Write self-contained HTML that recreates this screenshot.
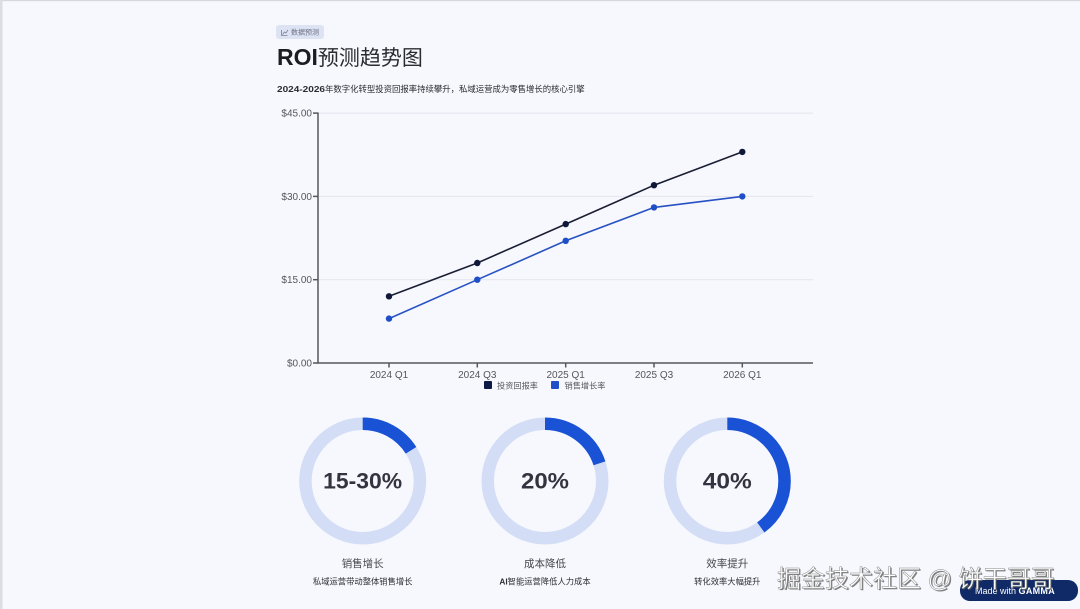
<!DOCTYPE html>
<html><head><meta charset="utf-8">
<style>
html,body{margin:0;padding:0;background:#f7f8fd;}
svg{display:block;}
text{font-family:"Liberation Sans","Noto Sans CJK SC",sans-serif;}
</style></head>
<body>
<svg width="1080" height="609" viewBox="0 0 1080 609" xmlns="http://www.w3.org/2000/svg">
<rect x="0" y="0" width="1080" height="609" fill="#f7f8fd"/>
<rect x="0" y="0" width="1080" height="1.2" fill="#d6d7dc"/>
<rect x="0" y="0" width="2.5" height="609" fill="#dcdde2"/>

<!-- badge -->
<rect x="276" y="25" width="48" height="14" rx="3" fill="#dde3f3"/>
<polyline points="281.5,30 281.5,35.5 287.5,35.5" fill="none" stroke="#7a8196" stroke-width="0.8"/>
<polyline points="282.5,34.5 284.5,32 286,33 288,29.8" fill="none" stroke="#7a8196" stroke-width="0.8"/>
<text x="291" y="34.7" font-size="7" fill="#6d7385">数据预测</text>

<!-- title -->
<text x="277" y="65" font-size="23" font-weight="bold" fill="#1b1c24">ROI<tspan font-weight="normal" font-size="21" fill="#2a2b33">预测趋势图</tspan></text>

<!-- subtitle -->
<text x="277" y="92" font-size="8.4" fill="#2a2b33"><tspan font-weight="bold" textLength="48" lengthAdjust="spacingAndGlyphs">2024-2026</tspan><tspan>年数字化转型投资回报率持续攀升，私域运营成为零售增长的核心引擎</tspan></text>

<!-- gridlines -->
<g stroke="#e3e5ee" stroke-width="1">
<line x1="318" y1="113.1" x2="813" y2="113.1"/>
<line x1="318" y1="196.4" x2="813" y2="196.4"/>
<line x1="318" y1="279.7" x2="813" y2="279.7"/>
</g>
<!-- axes -->
<g stroke="#55565e" stroke-width="1.5">
<line x1="318" y1="112.5" x2="318" y2="363"/>
<line x1="317.3" y1="363" x2="813" y2="363"/>
<line x1="313" y1="113.1" x2="318" y2="113.1"/>
<line x1="313" y1="196.4" x2="318" y2="196.4"/>
<line x1="313" y1="279.7" x2="318" y2="279.7"/>
<line x1="313" y1="363" x2="318" y2="363"/>
<line x1="389" y1="363" x2="389" y2="367.5"/>
<line x1="477.3" y1="363" x2="477.3" y2="367.5"/>
<line x1="565.7" y1="363" x2="565.7" y2="367.5"/>
<line x1="654" y1="363" x2="654" y2="367.5"/>
<line x1="742.3" y1="363" x2="742.3" y2="367.5"/>
</g>
<g font-size="10" fill="#55565e" text-anchor="end">
<text x="312" y="116.6">$45.00</text>
<text x="312" y="199.9">$30.00</text>
<text x="312" y="283.2">$15.00</text>
<text x="312" y="366.5">$0.00</text>
</g>
<g font-size="10" fill="#55565e" text-anchor="middle">
<text x="389" y="378">2024 Q1</text>
<text x="477.3" y="378">2024 Q3</text>
<text x="565.7" y="378">2025 Q1</text>
<text x="654" y="378">2025 Q3</text>
<text x="742.3" y="378">2026 Q1</text>
</g>

<!-- series: ROI -->
<polyline points="389,296.3 477.3,263 565.7,224.1 654,185.2 742.3,151.9" fill="none" stroke="#1a1e33" stroke-width="1.6"/>
<g fill="#0f1838">
<circle cx="389" cy="296.3" r="3.2"/><circle cx="477.3" cy="263" r="3.2"/><circle cx="565.7" cy="224.1" r="3.2"/><circle cx="654" cy="185.2" r="3.2"/><circle cx="742.3" cy="151.9" r="3.2"/>
</g>
<!-- series: sales -->
<polyline points="389,318.6 477.3,279.7 565.7,240.8 654,207.4 742.3,196.4" fill="none" stroke="#2752c2" stroke-width="1.6"/>
<g fill="#1f4fc6">
<circle cx="389" cy="318.6" r="3.2"/><circle cx="477.3" cy="279.7" r="3.2"/><circle cx="565.7" cy="240.8" r="3.2"/><circle cx="654" cy="207.4" r="3.2"/><circle cx="742.3" cy="196.4" r="3.2"/>
</g>

<!-- legend -->
<rect x="484" y="381" width="8" height="8" rx="1" fill="#0e1a45"/>
<text x="497" y="388.3" font-size="8.2" fill="#55565e">投资回报率</text>
<rect x="551" y="381" width="8" height="8" rx="1" fill="#1e4fc8"/>
<text x="564.5" y="388.3" font-size="8.2" fill="#55565e">销售增长率</text>

<!-- donuts -->
<g fill="none" stroke-width="12.5">
<circle cx="362.7" cy="481" r="57.25" stroke="#d3def6"/>
<circle cx="362.7" cy="481" r="57.25" stroke="#1a52d6" stroke-dasharray="57.5 400" transform="rotate(-90 362.7 481)"/>
<circle cx="545" cy="481" r="57.25" stroke="#d3def6"/>
<circle cx="545" cy="481" r="57.25" stroke="#1a52d6" stroke-dasharray="71.9 400" transform="rotate(-90 545 481)"/>
<circle cx="727.3" cy="481" r="57.25" stroke="#d3def6"/>
<circle cx="727.3" cy="481" r="57.25" stroke="#1a52d6" stroke-dasharray="143.9 400" transform="rotate(-90 727.3 481)"/>
</g>
<g font-size="22" font-weight="bold" fill="#33343f" text-anchor="middle">
<text x="362.7" y="488.5" textLength="79" lengthAdjust="spacingAndGlyphs">15-30%</text>
<text x="545" y="488.5" textLength="48" lengthAdjust="spacingAndGlyphs">20%</text>
<text x="727.3" y="488.5" textLength="49" lengthAdjust="spacingAndGlyphs">40%</text>
</g>
<g font-size="10.5" fill="#44454d" text-anchor="middle">
<text x="362.7" y="567">销售增长</text>
<text x="545" y="567">成本降低</text>
<text x="727.3" y="567">效率提升</text>
</g>
<g font-size="8.3" fill="#2e2f37" text-anchor="middle">
<text x="362.7" y="584.5">私域运营带动整体销售增长</text>
<text x="545" y="584.5"><tspan font-weight="bold">AI</tspan>智能运营降低人力成本</text>
<text x="727.3" y="584.5">转化效率大幅提升</text>
</g>

<!-- gamma badge -->
<rect x="960" y="580" width="118" height="21" rx="10" fill="#0f2a66"/>
<text x="975" y="594" font-size="9" fill="#ffffff">Made with <tspan font-weight="bold" letter-spacing="0.3">GAMMA</tspan></text>

<!-- watermark -->
<text x="777" y="587" font-size="24" fill="#555" opacity="0.75" transform="translate(1.2,1.2)">掘金技术社区 @ 饼干哥哥</text>
<text x="777" y="587" font-size="24" fill="#ffffff" stroke="#8a8a8a" stroke-width="0.5">掘金技术社区 @ 饼干哥哥</text>
</svg>
</body></html>
